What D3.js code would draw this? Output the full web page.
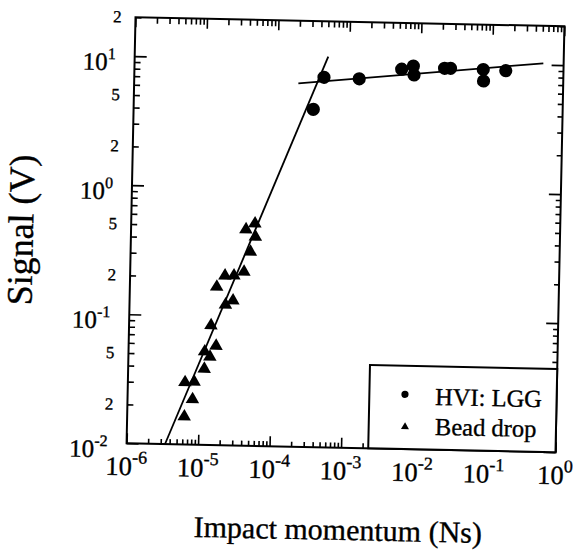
<!DOCTYPE html>
<html>
<head>
<meta charset="utf-8">
<script src="https://cdn.jsdelivr.net/npm/d3@7"></script>
<style>
  html, body { margin: 0; padding: 0; background: #fff; }
  svg { display: block; }
  text { font-family: "Liberation Serif", "Times New Roman", serif; fill: #000; stroke: #000; stroke-width: 0.35px; }
</style>
</head>
<body>
<svg id="chart" width="577" height="554"></svg>
<script>
// HVI (LGG) impacts: momentum (Ns) and signal (V)
const hviMomentum = [3.26e-4, 4.5e-4, 1.40e-3, 5.46e-3, 7.93e-3, 8.15e-3, 0.0217, 0.0263, 0.0755, 0.0767, 0.156];
const hviSignal   = [4.14, 7.36, 7.26, 8.75, 9.31, 7.93, 9.04, 9.06, 8.97, 7.31, 8.86];

// Bead drop calibration: momentum (Ns) and signal (V)
const beadMomentum = [4.04e-5, 5.38e-5, 5.51e-5, 4.74e-5, 2.12e-5, 2.83e-5, 3.90e-5, 1.64e-5, 2.79e-5, 2.20e-5,
                      1.40e-5, 1.67e-5, 1.16e-5, 1.38e-5, 1.16e-5, 6.29e-6, 8.45e-6, 8.1e-6, 6.29e-6];
const beadSignal   = [0.490, 0.546, 0.431, 0.329, 0.213, 0.214, 0.230, 0.174, 0.137, 0.127,
                      0.0873, 0.0607, 0.0546, 0.0498, 0.0401, 0.0313, 0.0317, 0.0232, 0.0170];

// Fitted lines (end points)
const hviFitMomentum  = [1.98e-4, 0.52];
const hviFitSignal    = [6.55, 10.25];
const beadFitMomentum = [3.45e-6, 5.09e-4];
const beadFitSignal   = [0.01, 10.64];

// Axis ticks
const xDecades = [-6, -5, -4, -3, -2, -1, 0];
const yDecades = [-2, -1, 0, 1];
const yMinorLabels = ["2", "5", "2", "5", "2", "5", "2"];
const yMinorValues = [0.02, 0.05, 0.2, 0.5, 2, 5, 20];
const legendLabels = ["HVI: LGG", "Bead drop"];
const xTitle = "Impact momentum (Ns)";
const yTitle = "Signal (V)";

const L = 131, R = 560, T = 21.75, B = 447.75;
const svg = d3.select("#chart");
// the whole figure sits slightly tilted on the page
const root = svg.append("g").attr("transform", "rotate(1.2, 345.5, 234.75)");

const x = d3.scaleLog().domain([1e-6, 1]).range([L, R]);
const y = d3.scaleLog().domain([0.01, 20]).range([B, T]);

const xMajor = xDecades.map(e => Math.pow(10, e));
const xMinor = [];
xDecades.slice(0, -1).forEach(e => { for (let k = 2; k <= 9; k++) xMinor.push(k * Math.pow(10, e)); });
const yMajor = yDecades.map(e => Math.pow(10, e));
const yMinor = [];
yDecades.forEach(e => { for (let k = 2; k <= 9; k++) { const v = k * Math.pow(10, e); if (v <= 20) yMinor.push(v); } });

function tickAxis(axisFn, scale, values, size, transform) {
  const g = root.append("g").attr("transform", transform)
    .call(axisFn(scale).tickValues(values).tickSizeInner(-size).tickSizeOuter(0).tickFormat(""));
  g.select(".domain").remove();
  g.selectAll(".tick line").attr("stroke", "#000").attr("stroke-width", 1.6);
  return g;
}
tickAxis(d3.axisBottom, x, xMajor, 10, `translate(0,${B})`);
tickAxis(d3.axisBottom, x, xMinor, 5, `translate(0,${B})`);
tickAxis(d3.axisTop, x, xMajor, 10, `translate(0,${T})`);
tickAxis(d3.axisTop, x, xMinor, 6, `translate(0,${T})`);
tickAxis(d3.axisLeft, y, yMajor, 12, `translate(${L},0)`);
tickAxis(d3.axisLeft, y, yMinor, 6, `translate(${L},0)`);
tickAxis(d3.axisRight, y, yMajor, 12, `translate(${R},0)`);
tickAxis(d3.axisRight, y, yMinor, 5, `translate(${R},0)`);

// frame
root.append("rect").attr("x", L).attr("y", T).attr("width", R - L).attr("height", B - T)
  .attr("fill", "none").attr("stroke", "#000").attr("stroke-width", 2);

// x tick labels
xDecades.forEach(e => {
  const t = root.append("text").attr("x", x(Math.pow(10, e))).attr("y", B + 32).attr("text-anchor", "middle");
  t.append("tspan").attr("font-size", 26.5).text("10");
  t.append("tspan").attr("font-size", 18).attr("dy", -12).text(String(e));
});

// y tick labels
yDecades.forEach(e => {
  const t = root.append("text").attr("x", L - 19).attr("y", y(Math.pow(10, e)) + 14.4).attr("text-anchor", "end");
  t.append("tspan").attr("font-size", 25).text("10");
  t.append("tspan").attr("font-size", 16).attr("dy", -11).text(String(e));
});
yMinorValues.forEach((v, i) => {
  root.append("text").attr("x", L - 14).attr("y", y(v) + 5.5).attr("text-anchor", "end")
    .attr("font-size", 17).text(yMinorLabels[i]);
});

// axis titles
root.append("text").attr("x", 344).attr("y", 540).attr("text-anchor", "middle")
  .attr("font-size", 30).text(xTitle);
root.append("text").attr("transform", "translate(33,236.7) rotate(-90)").attr("text-anchor", "middle")
  .attr("font-size", 36).text(yTitle);

// fit lines
const line = d3.line().x(d => x(d[0])).y(d => y(d[1]));
root.append("path").attr("d", line(d3.zip(beadFitMomentum, beadFitSignal)))
  .attr("fill", "none").attr("stroke", "#000").attr("stroke-width", 1.8);
root.append("path").attr("d", line(d3.zip(hviFitMomentum, hviFitSignal)))
  .attr("fill", "none").attr("stroke", "#000").attr("stroke-width", 1.8);

// markers
const tri = (w, h) => `M0,${-h / 2}L${w / 2},${h / 2}L${-w / 2},${h / 2}Z`;
root.append("g").selectAll("circle").data(d3.zip(hviMomentum, hviSignal)).join("circle")
  .attr("cx", d => x(d[0])).attr("cy", d => y(d[1])).attr("r", 6.6).attr("fill", "#000");
root.append("g").selectAll("path").data(d3.zip(beadMomentum, beadSignal)).join("path")
  .attr("transform", d => `translate(${x(d[0])},${y(d[1])})`).attr("d", tri(13.5, 11.5)).attr("fill", "#000");

// legend
const lg = root.append("g");
lg.append("rect").attr("x", 372.7).attr("y", 364.5).attr("width", R - 372.7).attr("height", B - 364.5)
  .attr("fill", "#fff").attr("stroke", "#000").attr("stroke-width", 2);
lg.append("circle").attr("cx", 408.3).attr("cy", 393).attr("r", 3.6).attr("fill", "#000");
lg.append("path").attr("transform", "translate(409,424.4)").attr("d", tri(8, 7)).attr("fill", "#000");
lg.append("text").attr("x", 438.5).attr("y", 403).attr("font-size", 24.5).text(legendLabels[0]);
lg.append("text").attr("x", 439).attr("y", 433).attr("font-size", 24.5).text(legendLabels[1]);
</script>
</body>
</html>
